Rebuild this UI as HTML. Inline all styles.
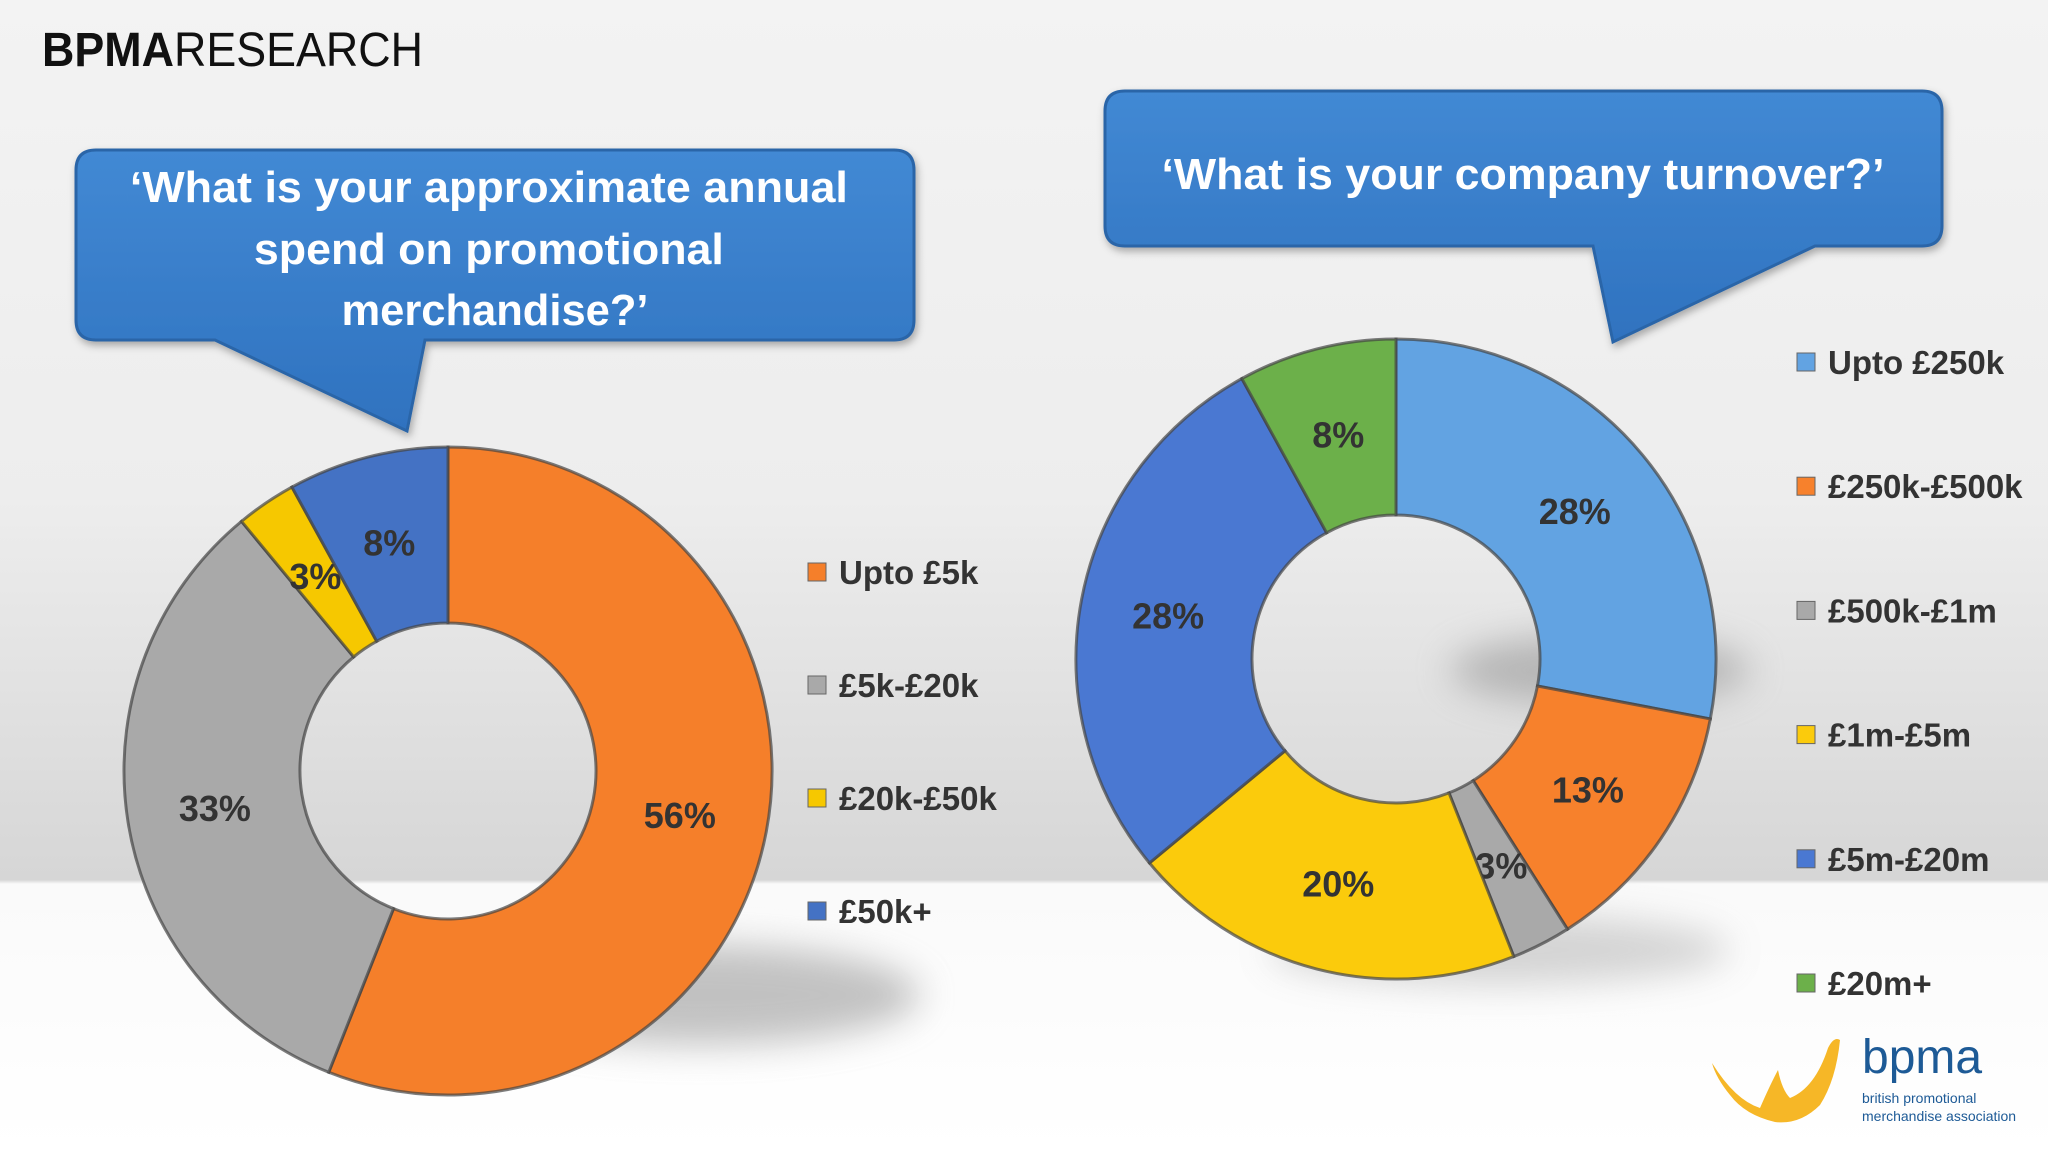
<!DOCTYPE html>
<html><head><meta charset="utf-8"><style>
html,body{margin:0;padding:0;width:2048px;height:1152px;overflow:hidden}
body{background:linear-gradient(to bottom,#f3f3f3 0px,#ededed 500px,#d6d6d6 880px,#fafafa 884px,#ffffff 1152px);font-family:"Liberation Sans",sans-serif}
</style></head><body>
<svg id="chart" width="2048" height="1152" viewBox="0 0 2048 1152" xmlns="http://www.w3.org/2000/svg" style="position:absolute;left:0;top:0">
<defs>
<filter id="blur" x="-50%" y="-50%" width="200%" height="200%"><feGaussianBlur stdDeviation="18"/></filter>
<filter id="ds" x="-10%" y="-10%" width="120%" height="130%"><feDropShadow dx="2" dy="4" stdDeviation="4" flood-color="#000" flood-opacity="0.3"/></filter>
<linearGradient id="cb" x1="0" y1="0" x2="0" y2="1"><stop offset="0" stop-color="#4289d4"/><stop offset="1" stop-color="#2f72bf"/></linearGradient>
</defs>
<text x="42" y="66" font-size="48" fill="#111" textLength="381" lengthAdjust="spacingAndGlyphs" font-family="Liberation Sans, sans-serif"><tspan font-weight="bold">BPMA</tspan><tspan>RESEARCH</tspan></text>

<g filter="url(#ds)">
<path d="M96,150 H894 Q914,150 914,170 V320 Q914,340 894,340 H425 L407,431 L215,340 H96 Q76,340 76,320 V170 Q76,150 96,150 Z" fill="url(#cb)" stroke="#2a65a8" stroke-width="3"/>
</g>
<text fill="#fff" font-weight="bold" font-size="44" text-anchor="middle" font-family="Liberation Sans, sans-serif">
<tspan x="495" y="202" textLength="718" lengthAdjust="spacingAndGlyphs">‘What is your approximate annual</tspan>
<tspan x="495" y="264" textLength="470" lengthAdjust="spacingAndGlyphs">spend on promotional</tspan>
<tspan x="495" y="325" textLength="307" lengthAdjust="spacingAndGlyphs">merchandise?’</tspan>
</text>

<g filter="url(#ds)">
<path d="M1125,91 H1922 Q1942,91 1942,111 V226 Q1942,246 1922,246 H1815 L1613,342 L1593,246 H1125 Q1105,246 1105,226 V111 Q1105,91 1125,91 Z" fill="url(#cb)" stroke="#2a65a8" stroke-width="3"/>
</g>
<text x="1523" y="189" fill="#fff" font-weight="bold" font-size="44" text-anchor="middle" textLength="723" lengthAdjust="spacingAndGlyphs" font-family="Liberation Sans, sans-serif">‘What is your company turnover?’</text>

<ellipse cx="700" cy="995" rx="220" ry="50" fill="#888" opacity="0.5" filter="url(#blur)"/>
<ellipse cx="1600" cy="670" rx="150" ry="35" fill="#888" opacity="0.5" filter="url(#blur)"/>
<ellipse cx="1500" cy="950" rx="230" ry="35" fill="#999" opacity="0.4" filter="url(#blur)"/>

<g id="left-donut"></g>
<g id="right-donut"></g>
<g id="left-legend"></g>
<g id="right-legend"></g>

<g>
<path d="M1712,1063 Q1735,1100 1760,1108 Q1770,1085 1778,1070 Q1782,1090 1790,1098 Q1815,1088 1828,1048 Q1834,1036 1840,1040 Q1836,1080 1820,1105 Q1800,1125 1775,1122 Q1745,1115 1730,1095 Q1716,1078 1712,1063 Z" fill="#f6b727"/>
<text x="1862" y="1073" font-size="48" fill="#1d5a96" font-family="Liberation Sans, sans-serif">bpma</text>
<text x="1862" y="1103" font-size="14" fill="#1d5a96" font-family="Liberation Sans, sans-serif">british promotional</text>
<text x="1862" y="1121" font-size="14" fill="#1d5a96" font-family="Liberation Sans, sans-serif">merchandise association</text>
</g>
</svg>
<script>
const leftCats = ["Upto £5k","£5k-£20k","£20k-£50k","£50k+"];
const leftVals = [56,33,3,8];
const leftLabels = ["56%","33%","3%","8%"];
const leftColors = ["#f57f2a","#a9a9a9","#f6c800","#4472c4"];
const rightCats = ["Upto £250k","£250k-£500k","£500k-£1m","£1m-£5m","£5m-£20m","£20m+"];
const rightVals = [28,13,3,20,28,8];
const rightLabels = ["28%","13%","3%","20%","28%","8%"];
const rightColors = ["#62a3e2","#f7812c","#a9a9a9","#fbcb0c","#4a78d2","#6cb04a"];
const NS="http://www.w3.org/2000/svg";
function mk(t,a){const e=document.createElementNS(NS,t);for(const k in a)e.setAttribute(k,a[k]);return e;}
function pt(cx,cy,r,a){return [cx+r*Math.sin(a),cy-r*Math.cos(a)];}
function donut(g,cx,cy,R,r,vals,labels,colors,name){
  const tot=vals.reduce((a,b)=>a+b,0);let acc=0;
  vals.forEach((v,i)=>{
    const a0=acc/tot*2*Math.PI;acc+=v;const a1=acc/tot*2*Math.PI;
    const lg=(a1-a0)>Math.PI?1:0;
    const p0=pt(cx,cy,R,a0),p1=pt(cx,cy,R,a1),q1=pt(cx,cy,r,a1),q0=pt(cx,cy,r,a0);
    const d=`M${p0[0]},${p0[1]} A${R},${R} 0 ${lg} 1 ${p1[0]},${p1[1]} L${q1[0]},${q1[1]} A${r},${r} 0 ${lg} 0 ${q0[0]},${q0[1]} Z`;
    const p=mk('path',{d:d,fill:colors[i],stroke:'#444','stroke-width':3,'stroke-opacity':0.7});
    
    
    g.appendChild(p);
    const m=pt(cx,cy,(R+r)/2,(a0+a1)/2);
    const t=mk('text',{x:m[0],y:m[1]+13,'text-anchor':'middle','font-size':36,'font-weight':'bold',fill:'#333','font-family':'Liberation Sans, sans-serif'});
    
    
    t.textContent=labels[i];g.appendChild(t);
  });
}
function legend(g,x,y0,dy,cats,colors,name){
  cats.forEach((c,i)=>{
    const y=y0+i*dy;
    const s=mk('rect',{x:x,y:y-9,width:18,height:18,fill:colors[i],stroke:'#666','stroke-width':1});
    
    
    g.appendChild(s);
    const t=mk('text',{x:x+31,y:y+12,'font-size':33,'font-weight':'bold',fill:'#333','font-family':'Liberation Sans, sans-serif'});
    
    
    t.textContent=c;g.appendChild(t);
  });
}
donut(document.getElementById('left-donut'),448,771,324,148,leftVals,leftLabels,leftColors,'left');
donut(document.getElementById('right-donut'),1396,659,320,144,rightVals,rightLabels,rightColors,'right');
legend(document.getElementById('left-legend'),808,572,113,leftCats,leftColors,'left-legend');
legend(document.getElementById('right-legend'),1797,362,124.2,rightCats,rightColors,'right-legend');
</script>
</body></html>
